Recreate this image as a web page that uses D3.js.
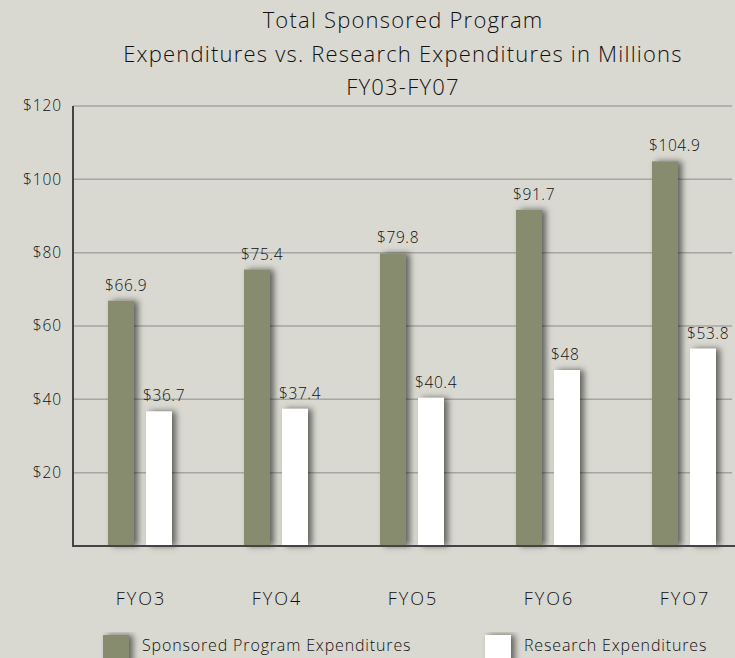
<!DOCTYPE html>
<html>
<head>
<meta charset="utf-8">
<script src="https://cdn.jsdelivr.net/npm/d3@7"></script>
<style>
  body { margin: 0; background: #d9d9d1; }
  svg { display: block; font-family: "Open Sans", sans-serif; font-weight: 300; }
</style>
</head>
<body>
<div id="chart"></div>
<script>
// data
var years = ["FYO3", "FYO4", "FYO5", "FYO6", "FYO7"];
var sponsored = [66.9, 75.4, 79.8, 91.7, 104.9];
var research = [36.7, 37.4, 40.4, 48, 53.8];
var seriesNames = ["Sponsored Program Expenditures", "Research Expenditures"];
var seriesColors = ["#878c6e", "#ffffff"];
var yTicks = [20, 40, 60, 80, 100, 120];
var titleLines = ["Total Sponsored Program", "Expenditures vs. Research Expenditures in Millions", "FY03-FY07"];

function init() {
  var w = 735, h = 658;
  var left = 73, top = 106, bottom = 546;
  var txt = "#111";

  var svg = d3.select("#chart").append("svg")
    .attr("width", w)
    .attr("height", h);

  // shadow for bars
  var filt = svg.append("defs").append("filter")
    .attr("id", "shadow")
    .attr("x", "-50%").attr("y", "-10%")
    .attr("width", "200%").attr("height", "120%");
  filt.append("feDropShadow")
    .attr("dx", 4).attr("dy", 0)
    .attr("stdDeviation", 3)
    .attr("flood-color", "#000")
    .attr("flood-opacity", 0.55);

  var x0 = d3.scaleBand()
    .domain(years)
    .range([left, left + 5 * 136]);

  var x1 = d3.scaleBand()
    .domain([0, 1])
    .range([35, 99])
    .paddingInner(0.316);

  var y = d3.scaleLinear()
    .domain([0, 120])
    .range([bottom, top]);

  // gridlines
  svg.append("g")
    .selectAll("line")
    .data(yTicks)
    .enter()
    .append("line")
    .attr("x1", left)
    .attr("x2", 732)
    .attr("y1", function (d) { return y(d); })
    .attr("y2", function (d) { return y(d); })
    .attr("stroke", "#a6a6a2")
    .attr("stroke-width", 1.5);

  // y axis labels
  var yAxis = d3.axisLeft(y)
    .tickValues(yTicks)
    .tickSize(0)
    .tickPadding(11)
    .tickFormat(function (d) { return "$" + d; });
  var gy = svg.append("g")
    .attr("transform", "translate(" + left + ",0)")
    .call(yAxis);
  gy.select(".domain").remove();
  gy.selectAll("text")
    .attr("font-size", 15.5)
    .attr("font-family", "Open Sans")
    .attr("font-weight", 300)
    .attr("letter-spacing", 0.9)
    .attr("fill", txt);

  // bars
  var groups = svg.selectAll(".grp")
    .data(years)
    .enter()
    .append("g")
    .attr("class", "grp")
    .attr("transform", function (d) { return "translate(" + x0(d) + ",0)"; });

  groups.selectAll("rect")
    .data(function (d, i) { return [sponsored[i], research[i]]; })
    .enter()
    .append("rect")
    .attr("x", function (d, j) { return x1(j); })
    .attr("y", function (d) { return y(d); })
    .attr("width", x1.bandwidth())
    .attr("height", function (d) { return bottom - y(d); })
    .attr("fill", function (d, j) { return seriesColors[j]; })
    .attr("filter", "url(#shadow)");

  groups.selectAll(".val")
    .data(function (d, i) { return [sponsored[i], research[i]]; })
    .enter()
    .append("text")
    .attr("class", "val")
    .attr("x", function (d, j) { return x1(j) - 3; })
    .attr("y", function (d) { return y(d) - 10; })
    .attr("font-size", 15.5)
    .attr("letter-spacing", 0.6)
    .attr("fill", txt)
    .text(function (d) { return "$" + d; });

  // axes lines
  svg.append("line")
    .attr("x1", left).attr("x2", left)
    .attr("y1", top).attr("y2", bottom)
    .attr("stroke", "#444").attr("stroke-width", 2);
  svg.append("line")
    .attr("x1", left - 1).attr("x2", 735)
    .attr("y1", bottom).attr("y2", bottom)
    .attr("stroke", "#444").attr("stroke-width", 2);

  // x labels
  svg.append("g")
    .selectAll("text")
    .data(years)
    .enter()
    .append("text")
    .attr("x", function (d) { return x0(d) + x0.bandwidth() / 2; })
    .attr("y", 605)
    .attr("text-anchor", "middle")
    .attr("font-size", 18)
    .attr("letter-spacing", 2)
    .attr("fill", txt)
    .text(function (d) { return d; });

  // title
  svg.append("g")
    .selectAll("text")
    .data(titleLines)
    .enter()
    .append("text")
    .attr("x", 403)
    .attr("y", function (d, i) { return 28 + i * 33.5; })
    .attr("text-anchor", "middle")
    .attr("font-size", 22)
    .attr("letter-spacing", 1.2)
    .attr("fill", txt)
    .text(function (d) { return d; });

  // legend
  var legX = [103, 485];
  var leg = svg.selectAll(".leg")
    .data(seriesNames)
    .enter()
    .append("g")
    .attr("class", "leg")
    .attr("transform", function (d, i) { return "translate(" + legX[i] + ",635)"; });
  leg.append("rect")
    .attr("width", 26)
    .attr("height", 30)
    .attr("fill", function (d, i) { return seriesColors[i]; })
    .attr("filter", "url(#shadow)");
  leg.append("text")
    .attr("x", 39)
    .attr("y", 15.5)
    .attr("font-size", 16)
    .attr("letter-spacing", 0.85)
    .attr("fill", txt)
    .text(function (d) { return d; });
}

window.onload = init;
</script>
</body>
</html>
